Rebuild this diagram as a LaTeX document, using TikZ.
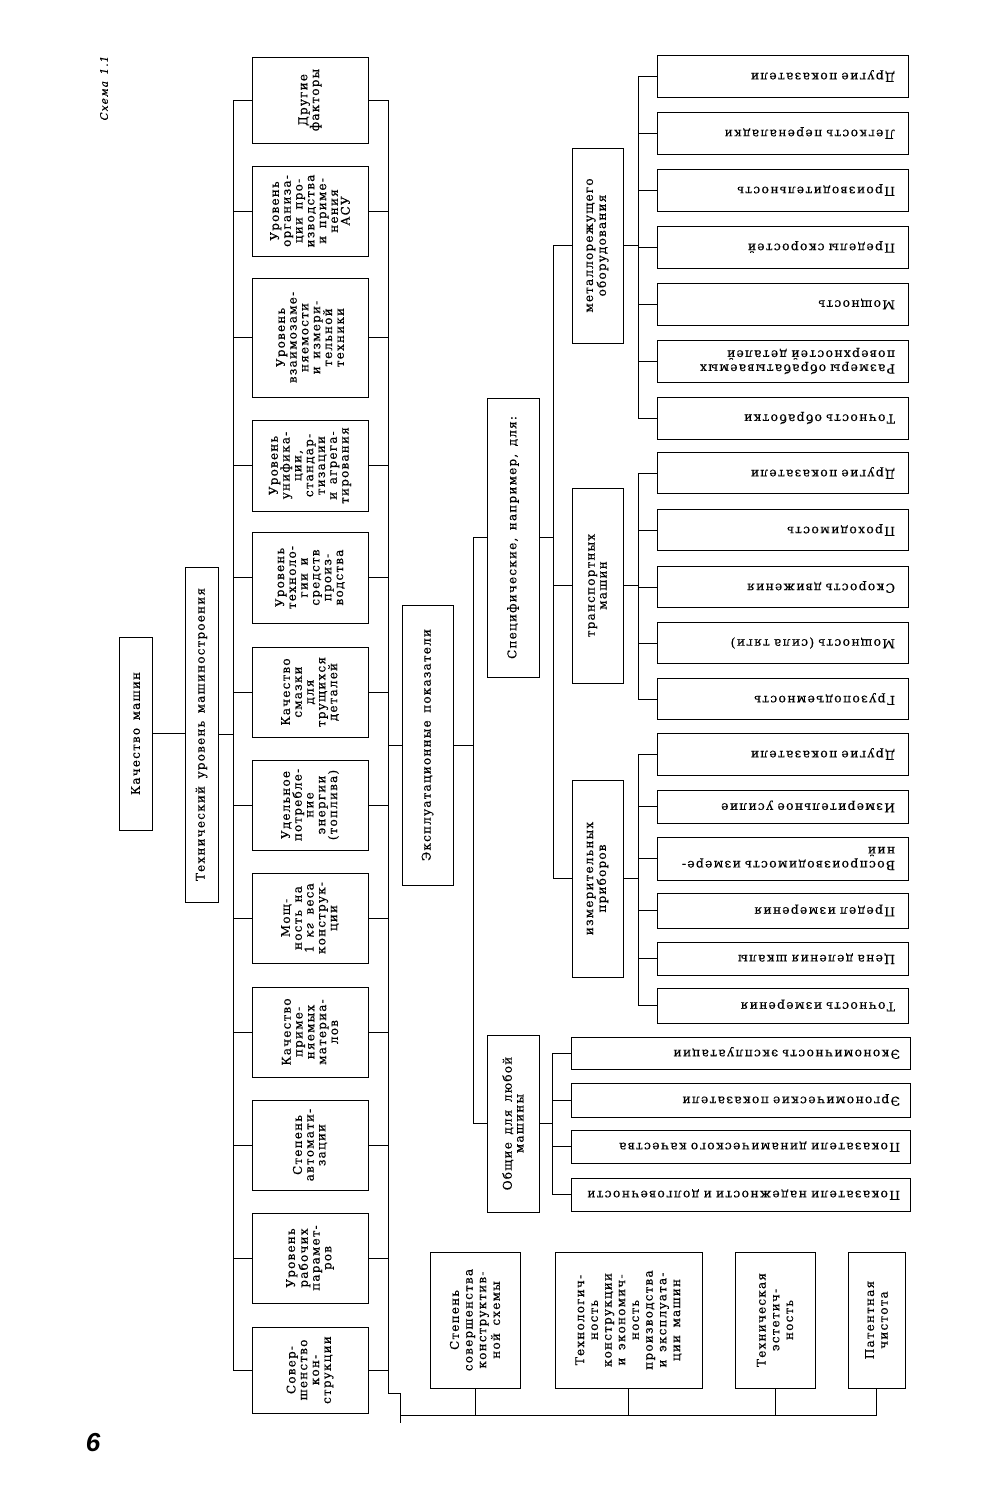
\documentclass[tikz,border=0pt]{standalone}
\usepackage{fontspec}
\setmainfont{DejaVu Serif}[LetterSpace=10,WordSpace=1.5,FakeBold=0.4]
\newfontfamily\numfont{Liberation Sans}
\begin{document}
\begin{tikzpicture}[x=1pt,y=-1pt,line width=0.75pt,
  vbox/.style={draw,rotate=90,align=center,inner sep=1pt,font=\fontsize{12}{11.8}\selectfont},
  wbox/.style={draw,rotate=90,align=center,inner sep=1pt,font=\fontsize{12}{13.7}\selectfont},
  leaf/.style={draw,rotate=180,align=left,inner ysep=0pt,font=\fontsize{12.4}{14}\selectfont},
  leafM/.style={leaf,inner xsep=13pt,text width=225pt},
  leafO/.style={leaf,inner xsep=10pt,text width=319pt}]
\useasboundingbox (0,0) rectangle (1003,1500);

% page furniture
\node[rotate=90,inner sep=0pt,font=\fontsize{10.5}{11}\selectfont\itshape] (cap) at (104,88) {Схема 1.1};
\node[inner sep=0pt,font=\numfont\fontsize{26}{26}\selectfont\bfseries\itshape] (pg) at (93,1443) {6};

% top level
\node[vbox,minimum width=193,minimum height=33] (km) at (135.5,733.5) {Качество машин};
\node[vbox,minimum width=335,minimum height=33] (tu) at (201.5,734.5) {Технический уровень машиностроения};

% technical factors
\node[vbox,minimum width=86,minimum height=116] (t1) at (310,100) {Другие\\факторы};
\node[vbox,minimum width=90,minimum height=116] (t2) at (310,211) {Уровень\\организа-\\ции про-\\изводства\\и приме-\\нения\\АСУ};
\node[vbox,minimum width=119,minimum height=116] (t3) at (310,337.5) {Уровень\\взаимозаме-\\няемости\\и измери-\\тельной\\техники};
\node[vbox,minimum width=91,minimum height=116] (t4) at (310,465.5) {Уровень\\унифика-\\ции,\\стандар-\\тизации\\и агрега-\\тирования};
\node[vbox,minimum width=91,minimum height=116] (t5) at (310,577.5) {Уровень\\техноло-\\гии и\\средств\\произ-\\водства};
\node[vbox,minimum width=90,minimum height=116] (t6) at (310,692) {Качество\\смазки\\для\\трущихся\\деталей};
\node[vbox,minimum width=90,minimum height=116] (t7) at (310,805) {Удельное\\потребле-\\ние\\энергии\\(топлива)};
\node[vbox,minimum width=90,minimum height=116] (t8) at (310,918) {Мощ-\\ность на\\1 \textit{кг} веса\\конструк-\\ции};
\node[vbox,minimum width=90,minimum height=116] (t9) at (310,1032) {Качество\\приме-\\няемых\\материа-\\лов};
\node[vbox,minimum width=90,minimum height=116] (t10) at (310,1145) {Степень\\автомати-\\зации};
\node[vbox,minimum width=90,minimum height=116] (t11) at (310,1258) {Уровень\\рабочих\\парамет-\\ров};
\node[vbox,minimum width=86,minimum height=116] (t12) at (310,1370) {Совер-\\шенство\\кон-\\струкции};

% operational indicators
\node[vbox,minimum width=280,minimum height=51] (ex) at (427.5,745) {Эксплуатационные показатели};
\node[vbox,minimum width=279,minimum height=52] (sp) at (513,537.5) {Специфические, например, для:};
\node[vbox,minimum width=177,minimum height=52] (ob) at (513,1123.5) {Общие для любой\\машины};

\node[vbox,minimum width=195,minimum height=51] (cm) at (597.5,245.5) {металлорежущего\\оборудования};
\node[vbox,minimum width=195,minimum height=51] (ct) at (597.5,585.5) {транспортных\\машин};
\node[vbox,minimum width=197,minimum height=51] (ci) at (597.5,878.5) {измерительных\\приборов};

% metal-cutting leaves
\node[leafM,minimum height=42] (m1) at (782.5,418) {Точность обработки};
\node[leafM,minimum height=42] (m2) at (782.5,361) {Размеры обрабатываемых\\поверхностей деталей};
\node[leafM,minimum height=42] (m3) at (782.5,304) {Мощность};
\node[leafM,minimum height=42] (m4) at (782.5,247) {Пределы скоростей};
\node[leafM,minimum height=42] (m5) at (782.5,190) {Производительность};
\node[leafM,minimum height=42] (m6) at (782.5,133) {Легкость переналадки};
\node[leafM,minimum height=42] (m7) at (782.5,76) {Другие показатели};

% transport leaves
\node[leafM,minimum height=41] (r1) at (782.5,699) {Грузоподъемность};
\node[leafM,minimum height=41] (r2) at (782.5,643) {Мощность (сила тяги)};
\node[leafM,minimum height=41] (r3) at (782.5,587) {Скорость движения};
\node[leafM,minimum height=41] (r4) at (782.5,530) {Проходимость};
\node[leafM,minimum height=41] (r5) at (782.5,473) {Другие показатели};

% measuring instrument leaves
\node[leafM,minimum height=35] (i1) at (782.5,1005.5) {Точность измерения};
\node[leafM,minimum height=33] (i2) at (782.5,958.5) {Цена деления шкалы};
\node[leafM,minimum height=35] (i3) at (782.5,910.5) {Предел измерения};
\node[leafM,minimum height=43] (i4) at (782.5,858.5) {Воспроизводимость измере-\\ний};
\node[leafM,minimum height=33] (i5) at (782.5,806.5) {Измерительное усилие};
\node[leafM,minimum height=42] (i6) at (782.5,754) {Другие показатели};

% general leaves
\node[leafO,minimum height=33] (o1) at (740.5,1194.5) {Показатели надежности и долговечности};
\node[leafO,minimum height=33] (o2) at (740.5,1146.5) {Показатели динамического качества};
\node[leafO,minimum height=34] (o3) at (740.5,1100) {Эргономические показатели};
\node[leafO,minimum height=32] (o4) at (740.5,1053) {Экономичность эксплуатации};

% bottom row
\node[wbox,minimum width=136,minimum height=90] (b1) at (475,1320) {Степень\\совершенства\\конструктив-\\ной схемы};
\node[wbox,minimum width=136,minimum height=147] (b2) at (628.5,1320) {Технологич-\\ность\\конструкции\\и экономич-\\ность\\производства\\и эксплуата-\\ции машин};
\node[wbox,minimum width=136,minimum height=80] (b3) at (775,1320) {Техническая\\эстетич-\\ность};
\node[wbox,minimum width=136,minimum height=57] (b4) at (876.5,1320) {Патентная\\чистота};

% bus coordinates
\coordinate (lb) at (233,0);
\coordinate (rb) at (388,0);
\coordinate (eb) at (473,0);
\coordinate (sb) at (553,0);
\coordinate (gb) at (552,0);
\coordinate (cb) at (638,0);
\coordinate (rbEnd) at (388,1393);
\coordinate (bCorner) at (400,1393);
\coordinate (bBus) at (400,1415);
\coordinate (bEnd) at (400,1423);

% connectors: top
\draw (km.south) -- (km.south -| tu.north);
\draw (tu.south) -- (tu.south -| lb);
\draw (lb |- t1.center) -- (lb |- t12.center);
\draw (rb |- t1.center) -- (rbEnd) -- (bCorner) -- (bEnd);
\foreach \n in {t1,t2,t3,t4,t5,t6,t7,t8,t9,t10,t11,t12} {
  \draw (lb |- \n.center) -- (\n.north);
  \draw (\n.south) -- (rb |- \n.center);
}

% operational
\draw (rb |- ex.center) -- (ex.north);
\draw (ex.south) -- (eb |- ex.center);
\draw (eb |- sp.center) -- (eb |- ob.center);
\draw (eb |- sp.center) -- (sp.north);
\draw (eb |- ob.center) -- (ob.north);

% specific
\draw (sp.south) -- (sb |- sp.center);
\draw (sb |- cm.center) -- (sb |- ci.center);
\foreach \n in {cm,ct,ci} {
  \draw (sb |- \n.center) -- (\n.north);
  \draw (\n.south) -- (cb |- \n.center);
}
\draw (cb |- m7.center) -- (cb |- m1.center);
\draw (cb |- r5.center) -- (cb |- r1.center);
\draw (cb |- i6.center) -- (cb |- i1.center);
\foreach \n in {m1,m2,m3,m4,m5,m6,m7,r1,r2,r3,r4,r5,i1,i2,i3,i4,i5,i6} {
  \draw (cb |- \n.center) -- (\n.east);
}

% general
\draw (ob.south) -- (gb |- ob.center);
\draw (gb |- o4.center) -- (gb |- o1.center);
\foreach \n in {o1,o2,o3,o4} {
  \draw (gb |- \n.center) -- (\n.east);
}

% bottom row
\draw (bBus) -- (bBus -| b4.center);
\foreach \n in {b1,b2,b3,b4} {
  \draw (\n.west) -- (\n.west |- bBus);
}
\end{tikzpicture}
\end{document}
